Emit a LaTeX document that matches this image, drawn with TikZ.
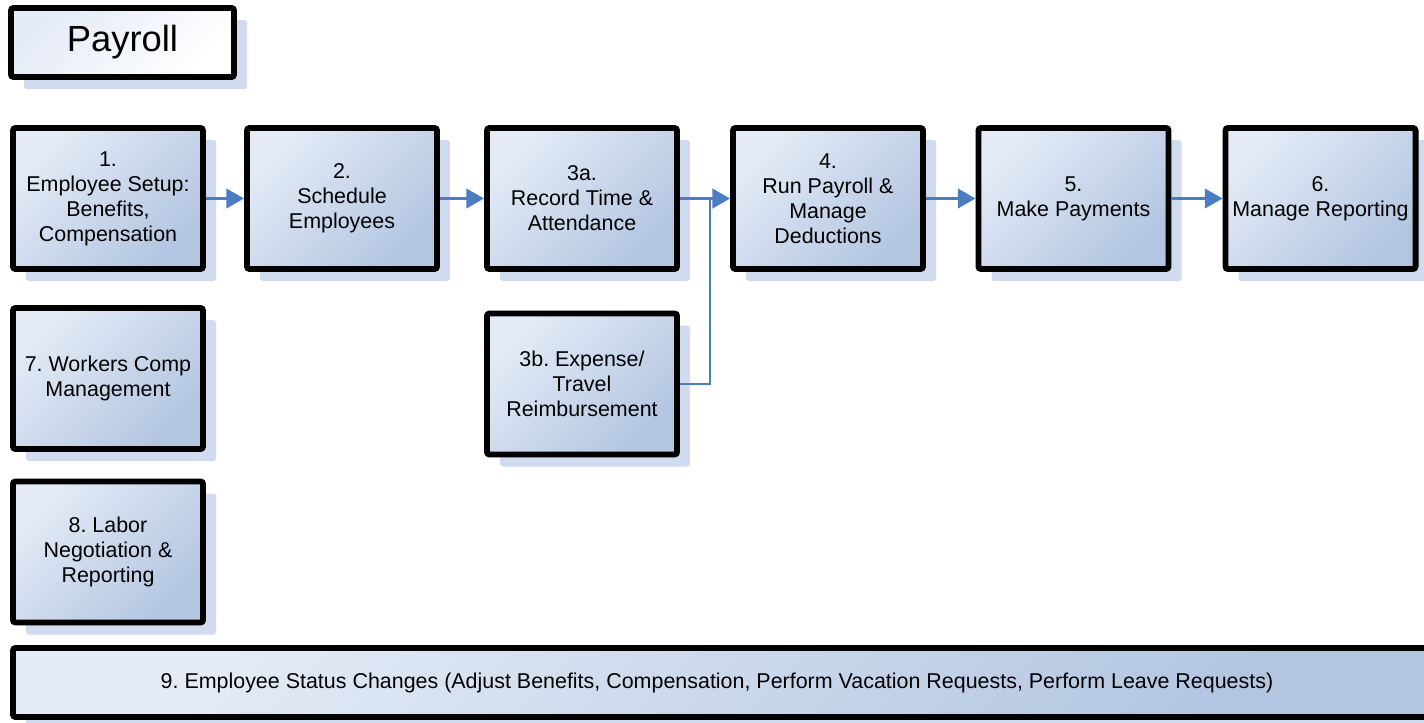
\documentclass[tikz,border=0pt]{standalone}
\usepackage{fontspec}
\setmainfont{Liberation Sans}
\frenchspacing
\usetikzlibrary{shadows,arrows.meta}

\definecolor{boxlight}{HTML}{E4EBF6}
\definecolor{boxdark}{HTML}{B2C5E1}
\definecolor{shadowblue}{HTML}{D0DBEF}
\definecolor{flowblue}{HTML}{4A7DC2}

\tikzset{
  stepbox/.style={draw=black, line width=3.4pt, rounded corners=1.5pt,
    top color=boxlight, bottom color=boxdark, shading angle=45,
    minimum width=3.8cm, minimum height=2.82cm, align=center, inner sep=2pt,
    font=\fontsize{12.2}{14.2}\selectfont,
    drop shadow={shadow xshift=0.26cm, shadow yshift=-0.24cm, fill=shadowblue, opacity=1}},
  titlebox/.style={stepbox, top color=boxlight, bottom color=white, shading angle=45,
    minimum width=4.46cm, minimum height=1.38cm, font=\fontsize{20.7}{24}\selectfont},
  flow/.style={draw=flowblue, line width=1.6pt, -{Triangle[length=10pt,width=11pt]}},
  link/.style={draw=flowblue, line width=1.2pt}
}

\begin{document}
\begin{tikzpicture}
  \useasboundingbox (0,0) rectangle (28.48,-14.46);
  % title
  \node[titlebox] (title) at (2.45,-0.85) {Payroll};
  % main row
  \node[stepbox] (s1) at (2.16,-3.97) {1.\\Employee Setup:\\Benefits,\\Compensation};
  \node[stepbox] (s2) at (6.84,-3.97) {2.\\Schedule\\Employees};
  \node[stepbox] (s3a) at (11.64,-3.97) {3a.\\Record Time \&\\Attendance};
  \node[stepbox] (s4) at (16.56,-3.97) {4.\\Run Payroll \&\\Manage\\Deductions};
  \node[stepbox] (s5) at (21.47,-3.97) {5.\\Make Payments};
  \node[stepbox] (s6) at (26.41,-3.97) {6.\\Manage Reporting};
  % side boxes
  \node[stepbox] (s7) at (2.16,-7.57) {7. Workers Comp\\Management};
  \node[stepbox] (s3b) at (11.64,-7.68) {3b. Expense/\\Travel\\Reimbursement};
  \node[stepbox] (s8) at (2.16,-11.04) {8. Labor\\Negotiation \&\\Reporting};
  % bottom bar
  \node[stepbox, minimum width=28.4cm, minimum height=1.38cm] (s9) at (14.46,-13.65)
    {\hspace*{-0.24cm}9. Employee Status Changes (Adjust Benefits, Compensation, Perform Vacation Requests, Perform Leave Requests)};

  % flow
  \draw[flow] (s1) -- (s2);
  \draw[flow] (s2) -- (s3a);
  \draw[flow] (s3a) -- (s4);
  \draw[flow] (s4) -- (s5);
  \draw[flow] (s5) -- (s6);
  \coordinate (join) at (14.2,-3.97);
  \draw[link] (s3b.east) -| (join);
\end{tikzpicture}
\end{document}
